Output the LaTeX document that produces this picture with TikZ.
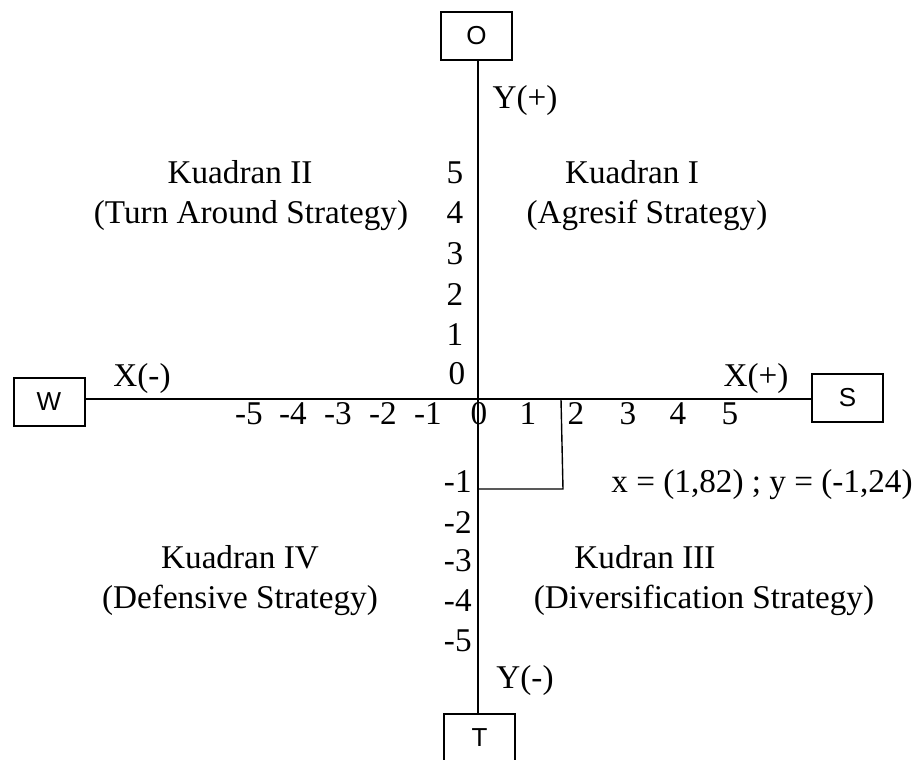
\documentclass[tikz,border=0pt]{standalone}
\usepackage{fontspec}
\setmainfont{Liberation Serif}
\newfontfamily\boxfont{Liberation Sans}
\begin{document}
\begin{tikzpicture}[x=0.5pt,y=-0.5pt,
  lbl/.style={anchor=base,inner sep=0pt,font=\fontsize{16.6}{20}\selectfont},
  nlbl/.style={anchor=base east,inner sep=0pt,font=\fontsize{16.6}{20}\selectfont},
  letterbox/.style={draw,line width=1pt,minimum width=35.5pt,minimum height=24pt,inner sep=0pt,font=\boxfont\fontsize{13}{15}\selectfont},
  axis/.style={line width=1pt},
  thin/.style={line width=0.7pt}]
\useasboundingbox (0,0) rectangle (917,760);
% boxes
\node[letterbox] (O) at (476.5,36) {O};
\node[letterbox] (W) at (49,402) {W};
\node[letterbox] (S) at (847.5,397.5) {S};
\node[letterbox] (T) at (479.5,738) {T};
\coordinate (org) at (478,399);
% axes
\draw[axis] (O.south -| org) -- (T.north -| org);
\draw[axis] (W.east |- org) -- (S.west |- org);
% point rectangle
\coordinate (px) at (561,399);
\coordinate (pc) at (563,489);
\coordinate (py) at (478,489);
\draw[thin] (px) -- (pc) -- (py);
% axis labels
\node[lbl] (yp) at (525,108) {Y(+)};
\node[lbl] (ym) at (525,688) {Y(-)};
\node[lbl] (xm) at (142,386) {X(-)};
\node[lbl] (xp) at (756,386) {X(+)};
% quadrant labels
\node[lbl] (q2a) at (240,183) {Kuadran II};
\node[lbl] (q2b) at (251,223) {(Turn Around Strategy)};
\node[lbl] (q1a) at (632,183) {Kuadran I};
\node[lbl] (q1b) at (647,223) {(Agresif Strategy)};
\node[lbl] (q4a) at (240,568) {Kuadran IV};
\node[lbl] (q4b) at (240,608) {(Defensive Strategy)};
\node[lbl] (q3a) at (645,568) {Kudran III};
\node[lbl] (q3b) at (704,608) {(Diversification Strategy)};
\node[lbl] (pt) at (762,492) {x = (1,82) ; y = (-1,24)};
% y ticks
\node[lbl] (y5) at (455,183) {5};
\node[lbl] (y4) at (455,223) {4};
\node[lbl] (y3) at (455,264) {3};
\node[lbl] (y2) at (455,305) {2};
\node[lbl] (y1) at (455,345) {1};
\node[lbl] (y0) at (457,384) {0};
\node[nlbl] (ym1) at (472,492) {-1};
\node[nlbl] (ym2) at (472,533) {-2};
\node[nlbl] (ym3) at (472,571) {-3};
\node[nlbl] (ym4) at (472,611) {-4};
\node[nlbl] (ym5) at (472,651) {-5};
% x ticks
\node[lbl] (xm5) at (249,424) {-5};
\node[lbl] (xm4) at (293,424) {-4};
\node[lbl] (xm3) at (338,424) {-3};
\node[lbl] (xm2) at (383,424) {-2};
\node[lbl] (xm1) at (428,424) {-1};
\node[lbl] (x0) at (479,424) {0};
\node[lbl] (x1) at (528,424) {1};
\node[lbl] (x2) at (576,424) {2};
\node[lbl] (x3) at (628,424) {3};
\node[lbl] (x4) at (678,424) {4};
\node[lbl] (x5) at (730,424) {5};
\end{tikzpicture}
\end{document}
